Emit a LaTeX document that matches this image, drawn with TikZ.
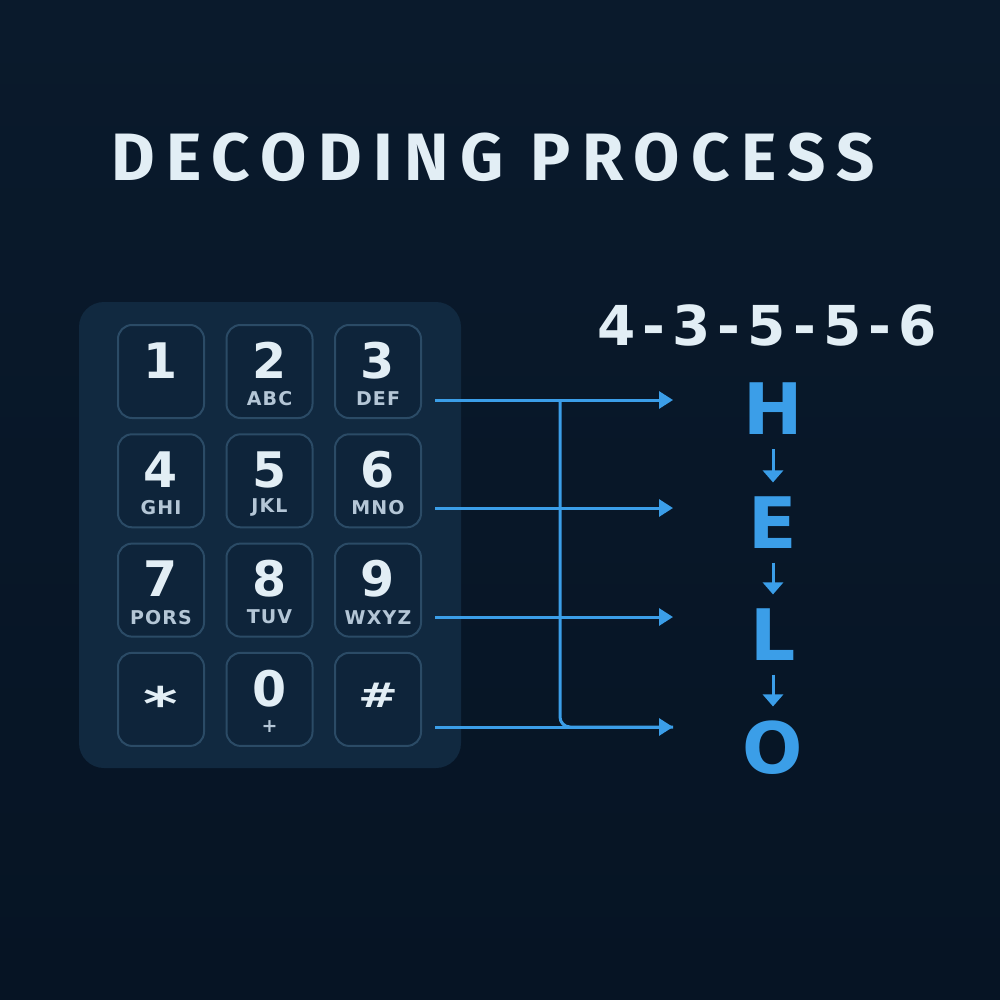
\documentclass[tikz,border=0pt]{standalone}
\usepackage{fontspec}
\usetikzlibrary{arrows.meta}
\setmainfont{DejaVu Sans}
\newfontfamily\titlefont[LetterSpace=17]{Fira Sans}
\newfontfamily\keyfont[LetterSpace=6]{DejaVu Sans}
\newfontfamily\codefont[LetterSpace=13]{DejaVu Sans}
\definecolor{bgtop}{HTML}{0A1A2C}
\definecolor{bgbottom}{HTML}{061424}
\definecolor{panelc}{HTML}{112940}
\definecolor{keyfill}{HTML}{0E243A}
\definecolor{keyline}{HTML}{2B4B66}
\definecolor{lighttext}{HTML}{E2EEF5}
\definecolor{dimtext}{HTML}{B4C6D6}
\definecolor{wireblue}{HTML}{3B9EE8}
\tikzset{
	panel/.style = {
		fill=panelc,
		rounded corners=25pt
	},
	keybox/.style = {
		draw=keyline,
		fill=keyfill,
		line width=2pt,
		rounded corners=14pt,
		minimum width=86pt,
		minimum height=93pt,
		inner sep=0pt
	},
	keydigit/.style = {
		inner sep=0pt,
		text=lighttext,
		font=\keyfont\bfseries\fontsize{49}{49}\selectfont
	},
	keyletters/.style = {
		inner sep=0pt,
		text=dimtext,
		font=\keyfont\bfseries\fontsize{19}{19}\selectfont
	},
	wire/.style = {
		draw=wireblue,
		line width=3pt
	},
	wirearrow/.style = {
		wire,
		-{Triangle[length=14pt,width=17pt]}
	},
	letter/.style = {
		inner sep=0pt,
		text=wireblue,
		font=\bfseries\fontsize{71}{71}\selectfont
	},
	steparrow/.style = {
		draw=wireblue,
		line width=3pt,
		-{Triangle[length=12pt,width=20pt]},
		shorten <=14pt,
		shorten >=14pt
	},
}

\begin{document}
\begin{tikzpicture}[x=1pt,y=1pt]
\useasboundingbox (0,0) rectangle (1000,-1000);
\shade[top color=bgtop, bottom color=bgbottom] (0,0) rectangle (1000,-1000);

\node [inner sep=0pt, text=lighttext, font=\titlefont\bfseries\fontsize{67}{67}\selectfont] (title) at (493,-157) {DECODING PROCESS};

% keypad
\fill [panel] (79,-302) rectangle (461,-768);
\foreach \d/\l [count=\i from 0] in {1/{},2/ABC,3/DEF,4/GHI,5/JKL,6/MNO,7/PORS,8/TUV,9/WXYZ,{}/{},0/+,{}/{}} {
	\pgfmathtruncatemacro\col{mod(\i,3)}
	\pgfmathtruncatemacro\row{\i/3}
	\node [keybox] (key\i) at ({161+108.5*\col},{-371.5-109.3*\row}) {};
	\node [keydigit] (dig\i) at ([yshift=11pt]key\i.center) {\d};
	\node [keyletters] (lab\i) at ([yshift=-27pt]key\i.center) {\l};
}
\node [keydigit, anchor=north, yscale=0.7, font=\keyfont\bfseries\fontsize{66}{66}\selectfont] (star) at ([yshift=13pt]key9.center) {*};
\node [keydigit, xscale=1.4, font=\bfseries\fontsize{34}{34}\selectfont] (hash) at ([yshift=4.5pt]key11.center) {\#};

% code and word
\node [inner sep=0pt, text=lighttext, font=\codefont\bfseries\fontsize{55}{55}\selectfont] (code) at (767,-325) {4-3-5-5-6};
\node [letter] (H) at (773,-409) {H};
\node [letter] (E) at (773,-522.5) {E};
\node [letter] (L) at (773,-634.5) {L};
\node [letter] (O) at (773,-747.5) {O};
\draw [steparrow] (H) -- (E);
\draw [steparrow] (E) -- (L);
\draw [steparrow] (L) -- (O);

% connectors
\coordinate (s1) at (435,-400);
\coordinate (s2) at (435,-508);
\coordinate (s3) at (435,-617);
\coordinate (s4) at (435,-727);
\coordinate (t1) at (673,-400);
\coordinate (t2) at (673,-508);
\coordinate (t3) at (673,-617);
\coordinate (t4) at (673,-727);
\coordinate (bus) at (560,-400);
\draw [wire, rounded corners=10pt] (bus) |- (t4);
\foreach \n in {1,...,4}
	\draw [wirearrow] (s\n) -- (t\n);
\end{tikzpicture}
\end{document}
